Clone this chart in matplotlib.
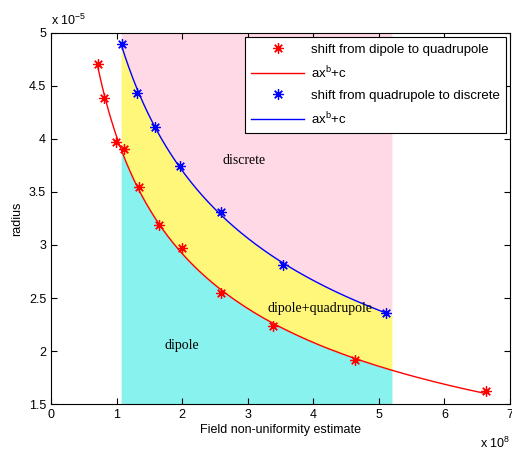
import numpy as np
import matplotlib
matplotlib.use('Agg')
import matplotlib.pyplot as plt

# data, x in units of 1e8, y in units of 1e-5
x_dq = [0.715, 0.807, 0.989, 1.11, 1.34, 1.644, 1.994, 2.587, 3.39, 4.64, 6.636]
y_dq = [4.71, 4.387, 3.97, 3.905, 3.547, 3.19, 2.97, 2.547, 2.236, 1.915, 1.623]
x_qd = [1.081, 1.309, 1.583, 1.963, 2.587, 3.546, 5.114]
y_qd = [4.896, 4.434, 4.113, 3.745, 3.311, 2.811, 2.358]
x_lo, x_hi = 1.07, 5.2


def fit_power(x, y):
    # fit y = a*x^b + c, grid over b, least squares for a and c
    x = np.array(x)
    y = np.array(y)
    best = None
    for b in np.linspace(-4, -0.05, 800):
        A = np.vstack([x ** b, np.ones_like(x)]).T
        coef, res, _, _ = np.linalg.lstsq(A, y, rcond=None)
        err = np.sum((A @ coef - y) ** 2)
        if best is None or err < best[0]:
            best = (err, coef[0], b, coef[1])
    return best[1:]


p_dq = fit_power(x_dq, y_dq)
p_qd = fit_power(x_qd, y_qd)
f_dq = lambda t: p_dq[0] * t ** p_dq[1] + p_dq[2]
f_qd = lambda t: p_qd[0] * t ** p_qd[1] + p_qd[2]

plt.rcParams['font.family'] = ['Liberation Sans', 'DejaVu Sans']
fig = plt.figure(figsize=(5.12, 4.5), dpi=100)
ax = fig.add_axes([0.0996, 0.102, 0.8964, 0.825])

xs = np.linspace(x_lo, x_hi, 300)
ax.fill_between(xs, 1.5, f_dq(xs), color='#88f2ee', lw=0)
ax.fill_between(xs, f_dq(xs), f_qd(xs), color='#fff77a', lw=0)
ax.fill_between(xs, f_qd(xs), 5, color='#ffd9e5', lw=0)

star = (8, 2, 0)
t1 = np.linspace(min(x_dq), max(x_dq), 300)
t2 = np.linspace(min(x_qd), max(x_qd), 300)
ax.plot(x_dq, y_dq, ls='none', marker=star, color='red', ms=7.5, mew=0.9,
        label='shift from dipole to quadrupole')
ax.plot(t1, f_dq(t1), 'r-', lw=1, label='ax$^{\\mathregular{b}}$+c')
ax.plot(x_qd, y_qd, ls='none', marker=star, color='blue', ms=7.5, mew=0.9,
        label='shift from quadrupole to discrete')
ax.plot(t2, f_qd(t2), 'b-', lw=1, label='ax$^{\\mathregular{b}}$+c')

ax.text(2.95, 3.8, 'discrete', family='Liberation Serif', fontsize=10, ha='center', va='center')
ax.text(4.1, 2.4, 'dipole+quadrupole', family='Liberation Serif', fontsize=10, ha='center', va='center')
ax.text(2.0, 2.05, 'dipole', family='Liberation Serif', fontsize=10, ha='center', va='center')

ax.set_xlim(0, 7)
ax.set_ylim(1.5, 5)
ax.set_xticks(range(0, 8))
ax.set_yticks(np.arange(1.5, 5.01, 0.5))
ax.set_yticklabels(['1.5', '2', '2.5', '3', '3.5', '4', '4.5', '5'])
ax.tick_params(direction='in', top=True, right=True, labelsize=9, length=4)
ax.set_xlabel('Field non-uniformity estimate', fontsize=9, labelpad=2)
ax.set_ylabel('radius', fontsize=9, labelpad=4)
ax.text(0.0, 1.012, 'x 10$^{\\mathregular{-5}}$', transform=ax.transAxes, fontsize=9, ha='left', va='bottom')
ax.text(1.0, -0.085, 'x 10$^{\\mathregular{8}}$', transform=ax.transAxes, fontsize=9, ha='right', va='top')

leg = ax.legend(loc='upper right', fontsize=9.5, fancybox=False, framealpha=1,
                edgecolor='black', borderaxespad=0.3, handlelength=4.0,
                labelspacing=0.65, borderpad=0.5, handletextpad=0.5)
leg.get_frame().set_linewidth(0.8)

fig.savefig('out.png', dpi=100)
